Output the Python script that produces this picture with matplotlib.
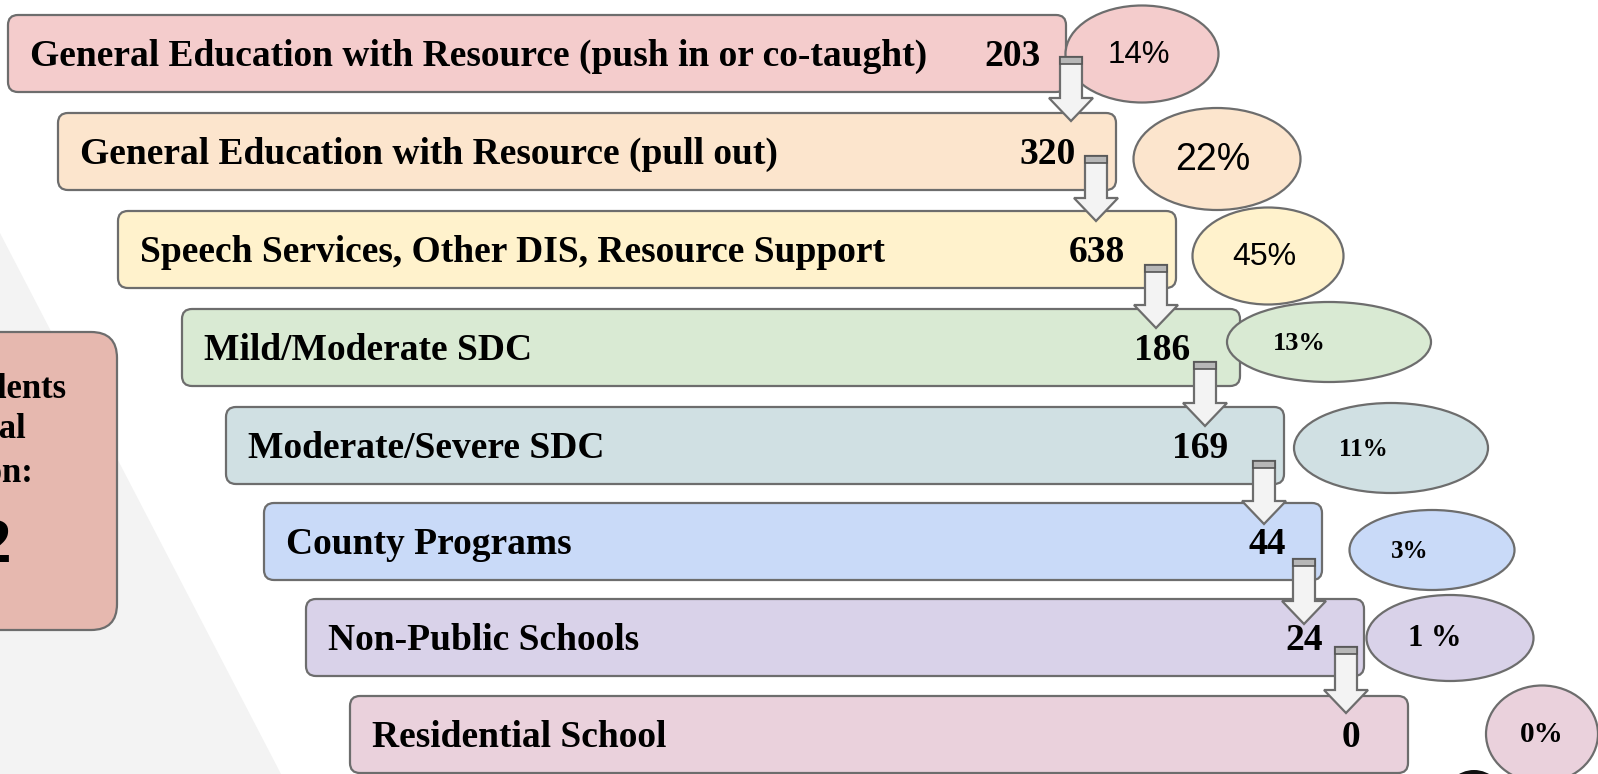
import matplotlib
matplotlib.use("Agg")
import matplotlib.pyplot as plt
from matplotlib.patches import FancyBboxPatch, Ellipse, Polygon, Rectangle

# ---- data ----
categories = [
    "General Education with Resource (push in or co-taught)",
    "General Education with Resource (pull out)",
    "Speech Services, Other DIS, Resource Support",
    "Mild/Moderate SDC",
    "Moderate/Severe SDC",
    "County Programs",
    "Non-Public Schools",
    "Residential School",
]
counts = [203, 320, 638, 186, 169, 44, 24, 0]
pct_labels = ["14%", "22%", "45%", "13%", "11%", "3%", "1 %", "0%"]
total_lines = ["Students", "in Special", "Education:"]
total_value = "1582"

# ---- layout (pixel space of the 1598x774 canvas) ----
W, H = 1598, 774
bar_left = [8, 58, 118, 182, 226, 264, 306, 350]
bar_top = [15, 113, 211, 309, 407, 503, 599, 696]
bar_w = 1058
bar_h = 77
num_right = [1041, 1076, 1125, 1190, 1228, 1286, 1323, 1360]
colors = ["#f4cccc", "#fce5cd", "#fff2cc", "#d9ead3", "#d0e0e3",
          "#c9daf8", "#d9d2e9", "#ead1dc"]
ell_cx = [1142, 1217, 1268, 1329, 1391, 1432, 1450, 1542]
ell_cy = [54, 159, 256, 342, 448, 550, 638, 734]
ell_w = [153, 167, 151, 204, 194, 165, 167, 112]
ell_h = [97, 102, 97, 80, 90, 80, 86, 97]
pct_font = ["Liberation Sans", "Liberation Sans", "Liberation Sans",
            "Liberation Serif", "Liberation Serif", "Liberation Serif",
            "Liberation Serif", "Liberation Serif"]
pct_size = [22.5, 27, 23, 19, 18, 18, 22, 21]
pct_weight = ["normal", "normal", "normal", "bold", "bold", "bold", "bold", "bold"]
pct_dx = [-3, -4, -4, -30, -28, -22, -15, 0]
arrow_cx = [1071, 1096, 1156, 1205, 1264, 1304, 1346]
arrow_top = [57, 156, 265, 362, 461, 559, 647]
arrow_tip = [121, 221, 328, 426, 524, 624, 713]
total_right = [66, 26, 33]
total_y = [390, 429, 474]

edge = "#6d6d6d"

fig = plt.figure(figsize=(W / 100, H / 100), dpi=100)
ax = fig.add_axes([0, 0, 1, 1])
ax.set_xlim(0, W)
ax.set_ylim(H, 0)
ax.axis("off")

# background triangle
ax.add_patch(Polygon([(0, 233), (281, H), (0, H)], closed=True,
                     facecolor="#f3f3f3", edgecolor="none", zorder=0))

# left total box (cut by canvas edge)
ax.add_patch(FancyBboxPatch((-60, 332), 177, 298,
                            boxstyle="round,pad=0,rounding_size=26",
                            facecolor="#e6b8af", edgecolor=edge, lw=1.6, zorder=1))
for line, xr, y in zip(total_lines, total_right, total_y):
    ax.text(xr, y, line, ha="right", va="center", fontsize=25, fontweight="bold",
            family="Liberation Serif", zorder=2)
ax.text(12, 546, total_value, ha="right", va="center", fontsize=46,
        fontweight="bold", family="Liberation Serif", zorder=2)

# bars
for i, (cat, n) in enumerate(zip(categories, counts)):
    ax.add_patch(FancyBboxPatch((bar_left[i], bar_top[i]), bar_w, bar_h,
                                boxstyle="round,pad=0,rounding_size=10",
                                facecolor=colors[i], edgecolor=edge, lw=1.6, zorder=2))
    cy = bar_top[i] + bar_h / 2
    ax.text(bar_left[i] + 22, cy + 3, cat, ha="left", va="center", fontsize=27,
            fontweight="bold", family="Liberation Serif", zorder=3)
    ax.text(num_right[i], cy + 3, str(n), ha="right", va="center", fontsize=27,
            fontweight="bold", family="Liberation Serif", zorder=3)

# ellipses
for i, p in enumerate(pct_labels):
    ax.add_patch(Ellipse((ell_cx[i], ell_cy[i]), ell_w[i], ell_h[i],
                         facecolor=colors[i], edgecolor=edge, lw=1.6, zorder=2))
    ax.text(ell_cx[i] + pct_dx[i], ell_cy[i] + 1, p, ha="center", va="center",
            fontsize=pct_size[i], fontweight=pct_weight[i], family=pct_font[i], zorder=3)

# arrows
sw, hw, hl = 11, 22, 23
for cx, t, tip in zip(arrow_cx, arrow_top, arrow_tip):
    base = tip - hl
    pts = [(cx - sw, t), (cx + sw, t), (cx + sw, base), (cx + hw, base),
           (cx, tip), (cx - hw, base), (cx - sw, base)]
    ax.add_patch(Polygon(pts, closed=True, facecolor="#f3f3f3", edgecolor=edge,
                         lw=1.6, zorder=4))
    ax.add_patch(Rectangle((cx - sw, t), 2 * sw, 7, facecolor="#b7b7b7",
                           edgecolor="#555555", lw=1.2, zorder=5))

# dark shape peeking at bottom
ax.add_patch(Ellipse((1474, 800), 60, 60, facecolor="#111111", edgecolor="none", zorder=1))

fig.savefig("out.png", dpi=100)
